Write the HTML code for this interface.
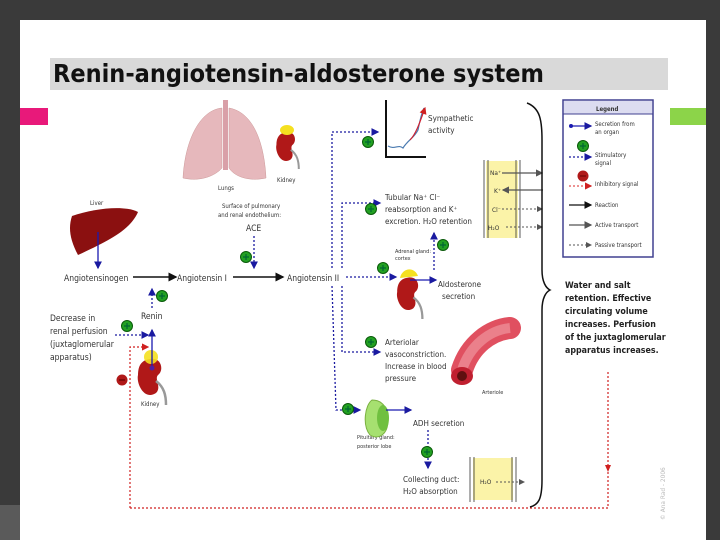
<!DOCTYPE html>
<html><head><meta charset="utf-8"><style>
html,body{margin:0;padding:0;background:#3a3a3a;}
svg{display:block;font-family:"DejaVu Sans Condensed","Liberation Sans",sans-serif;}
</style></head><body>
<svg width="720" height="540" viewBox="0 0 720 540" xmlns="http://www.w3.org/2000/svg">
<defs>
<marker id="ab" markerWidth="6" markerHeight="6" refX="5" refY="3" orient="auto"><path d="M0,0L6,3L0,6z" fill="#1a1aa0"/></marker>
<marker id="ak" markerWidth="6" markerHeight="6" refX="5" refY="3" orient="auto"><path d="M0,0L6,3L0,6z" fill="#111"/></marker>
<marker id="ar" markerWidth="6" markerHeight="6" refX="5" refY="3" orient="auto"><path d="M0,0L6,3L0,6z" fill="#d02020"/></marker>
<marker id="ag" markerWidth="6" markerHeight="6" refX="5" refY="3" orient="auto"><path d="M0,0L6,3L0,6z" fill="#555"/></marker>
<g id="plus"><circle r="5.5" fill="#22a022" stroke="#0a5a0a"/><path d="M-3,0H3M0,-3V3" stroke="#063" stroke-width="1.2"/></g>
<g id="kid"><path d="M0,-16 C12,-18 14,-4 8,0 C4,4 12,12 6,18 C-6,26 -14,8 -12,0 C-12,-10 -8,-15 0,-16z" fill="#b01818"/><path d="M6,6 C14,12 16,20 16,30" stroke="#999" stroke-width="2.5" fill="none"/></g>
</defs>
<rect x="0" y="0" width="720" height="540" fill="#3a3a3a"/>
<rect x="20" y="20" width="686" height="520" fill="#ffffff"/>
<rect x="0" y="505" width="120" height="35" fill="#5a5a5a"/>
<rect x="20" y="505" width="100" height="35" fill="#fff"/>
<rect x="50" y="58" width="618" height="32" fill="#d9d9d9"/>
<text x="53" y="82" font-size="25" font-weight="bold" fill="#111" font-family="DejaVu Sans Condensed,Liberation Sans Narrow,sans-serif">Renin-angiotensin-aldosterone system</text>
<rect x="20" y="108" width="28" height="17" fill="#e8197a"/>
<rect x="670" y="108" width="36" height="17" fill="#8cd449"/>

<!-- lungs -->
<path d="M222,108 C200,110 185,140 183,178 C200,182 215,176 222,168z" fill="#e6b8bc" stroke="#c99" stroke-width="0.5"/>
<path d="M229,108 C252,112 264,140 266,178 C248,182 234,176 229,168z" fill="#e6b8bc" stroke="#c99" stroke-width="0.5"/>
<rect x="223" y="100" width="5" height="70" fill="#d9a0a8"/>
<text x="218" y="190" font-size="6" fill="#333">Lungs</text>
<g transform="translate(286,145) scale(0.8)"><use href="#kid"/></g>
<ellipse cx="287" cy="130" rx="7" ry="5" fill="#f5e020"/>
<text x="277" y="182" font-size="6" fill="#333">Kidney</text>

<!-- liver -->
<path d="M72,216 C95,208 125,205 138,212 C130,230 110,240 78,255 C70,240 68,228 72,216z" fill="#8b1010"/>
<text x="90" y="205" font-size="6" fill="#333">Liver</text>
<line x1="98" y1="232" x2="98" y2="268" stroke="#1a1ab0" stroke-width="1.3" marker-end="url(#ab)"/>

<g font-size="8.5" fill="#333">
<text x="64" y="281">Angiotensinogen</text>
<text x="177" y="281">Angiotensin I</text>
<text x="287" y="281">Angiotensin II</text>
<text x="222" y="208" font-size="6">Surface of pulmonary</text>
<text x="218" y="217" font-size="6">and renal endothelium:</text>
<text x="246" y="231" font-size="8.5">ACE</text>
<text x="141" y="319">Renin</text>
<text x="50" y="321">Decrease in</text>
<text x="50" y="334">renal perfusion</text>
<text x="50" y="347">(juxtaglomerular</text>
<text x="50" y="360">apparatus)</text>
<text x="141" y="406" font-size="6">Kidney</text>
</g>
<line x1="133" y1="277" x2="176" y2="277" stroke="#111" stroke-width="1.5" marker-end="url(#ak)"/>
<line x1="233" y1="277" x2="283" y2="277" stroke="#111" stroke-width="1.5" marker-end="url(#ak)"/>
<line x1="254" y1="236" x2="254" y2="268" stroke="#1a1aa0" stroke-width="1.3" stroke-dasharray="2,2" marker-end="url(#ab)"/>
<use href="#plus" x="246" y="257"/>
<line x1="152" y1="308" x2="152" y2="289" stroke="#1a1aa0" stroke-width="1.3" stroke-dasharray="2,2" marker-end="url(#ab)"/>
<use href="#plus" x="162" y="296"/>
<use href="#plus" x="127" y="326"/>
<line x1="115" y1="335" x2="148" y2="335" stroke="#1a1aa0" stroke-width="1.3" stroke-dasharray="2,2" marker-end="url(#ab)"/>
<path d="M130,508 V347 H148" stroke="#d02020" stroke-width="1.2" stroke-dasharray="2,2" fill="none" marker-end="url(#ar)"/>
<circle cx="122" cy="380" r="5.5" fill="#b01818"/><path d="M119,380H125" stroke="#600" stroke-width="1.2"/>
<g transform="translate(150,375)"><use href="#kid"/></g>
<circle cx="151" cy="357" r="7" fill="#f5e020" opacity="0.9"/>
<line x1="152" y1="368" x2="152" y2="330" stroke="#1a1ab0" stroke-width="1.3" marker-end="url(#ab)"/>
<circle cx="152" cy="368" r="2.5" fill="#5020a0"/>
<path d="M130,508 H608 V372" stroke="#d02020" stroke-width="1.2" stroke-dasharray="2,2" fill="none"/>
<path d="M605,465 L608,472 L611,465z" fill="#d02020"/>

<!-- branches -->
<path d="M332,268 V132 H378" stroke="#1a1aa0" stroke-width="1.3" stroke-dasharray="2,2" fill="none" marker-end="url(#ab)"/>
<path d="M342,268 V203 H380" stroke="#1a1aa0" stroke-width="1.3" stroke-dasharray="2,2" fill="none" marker-end="url(#ab)"/>
<line x1="346" y1="277" x2="396" y2="277" stroke="#1a1aa0" stroke-width="1.3" stroke-dasharray="2,2" marker-end="url(#ab)"/>
<path d="M342,286 V352 H380" stroke="#1a1aa0" stroke-width="1.3" stroke-dasharray="2,2" fill="none" marker-end="url(#ab)"/>
<path d="M332,286 L336,410 H360" stroke="#1a1aa0" stroke-width="1.3" stroke-dasharray="2,2" fill="none" marker-end="url(#ab)"/>
<use href="#plus" x="368" y="142"/>
<use href="#plus" x="371" y="209"/>
<use href="#plus" x="383" y="268"/>
<use href="#plus" x="371" y="342"/>
<use href="#plus" x="348" y="409"/>

<!-- sympathetic graph -->
<path d="M386,100 V157 H426" stroke="#111" stroke-width="2" fill="none"/>
<path d="M388,146 C395,150 398,144 403,148 C408,140 414,138 418,130 C420,120 422,112 424,108" stroke="#4a7ab0" stroke-width="1.2" fill="none"/>
<path d="M410,140 C416,134 420,122 425,108" stroke="#d02030" stroke-width="1.2" fill="none" marker-end="url(#ar)"/>
<g font-size="8" fill="#333">
<text x="428" y="121">Sympathetic</text>
<text x="428" y="133">activity</text>
<text x="385" y="200">Tubular Na⁺ Cl⁻</text>
<text x="385" y="212">reabsorption and K⁺</text>
<text x="385" y="224">excretion. H₂O retention</text>
<text x="395" y="253" font-size="5.5">Adrenal gland:</text>
<text x="395" y="260" font-size="5.5">cortex</text>
<text x="438" y="287">Aldosterone</text>
<text x="442" y="299">secretion</text>
<text x="385" y="345">Arteriolar</text>
<text x="385" y="357">vasoconstriction.</text>
<text x="385" y="369">Increase in blood</text>
<text x="385" y="381">pressure</text>
<text x="413" y="426">ADH secretion</text>
<text x="357" y="439" font-size="5.5">Pituitary gland:</text>
<text x="357" y="448" font-size="5.5">posterior lobe</text>
<text x="403" y="482">Collecting duct:</text>
<text x="403" y="494">H₂O absorption</text>
<text x="482" y="394" font-size="5.5">Arteriole</text>
</g>
<!-- yellow box -->
<rect x="486" y="161" width="32" height="77" fill="#fbf3a8"/>
<path d="M484,160V238M488,160V238M516,160V238M520,160V238" stroke="#333" stroke-width="0.8"/>
<g font-size="6.5" fill="#333"><text x="490" y="175">Na⁺</text><text x="494" y="193">K⁺</text><text x="492" y="212">Cl⁻</text><text x="488" y="230">H₂O</text></g>
<line x1="502" y1="173" x2="542" y2="173" stroke="#555" stroke-width="1.2" marker-end="url(#ag)"/>
<line x1="543" y1="190" x2="503" y2="190" stroke="#555" stroke-width="1.2" marker-end="url(#ag)"/>
<line x1="502" y1="209" x2="542" y2="209" stroke="#555" stroke-width="1" stroke-dasharray="2,2" marker-end="url(#ag)"/>
<line x1="506" y1="227" x2="542" y2="227" stroke="#555" stroke-width="1" stroke-dasharray="2,2" marker-end="url(#ag)"/>
<!-- aldosterone -->
<line x1="434" y1="270" x2="434" y2="233" stroke="#1a1aa0" stroke-width="1.3" stroke-dasharray="2,2" marker-end="url(#ab)"/>
<use href="#plus" x="443" y="245"/>
<g transform="translate(408,292) scale(0.9)"><use href="#kid"/></g>
<path d="M400,278 C402,268 414,266 418,276z" fill="#f5e020"/>
<line x1="410" y1="280" x2="436" y2="280" stroke="#1a1ab0" stroke-width="1.3" marker-end="url(#ab)"/>
<!-- arteriole -->
<path d="M462,370 C470,345 490,330 510,328" stroke="#e05060" stroke-width="22" stroke-linecap="round" fill="none"/>
<path d="M462,370 C470,345 490,330 510,328" stroke="#f2a0a8" stroke-width="10" fill="none" opacity="0.6"/>
<ellipse cx="462" cy="376" rx="11" ry="9" fill="#c02030"/><circle cx="462" cy="376" r="5" fill="#601010"/>
<!-- pituitary -->
<path d="M372,400 C365,405 362,425 370,435 C378,440 388,435 388,420 C388,410 384,400 372,400z" fill="#a6e070" stroke="#7ab040"/>
<ellipse cx="383" cy="418" rx="6" ry="13" fill="#70c040"/>
<line x1="386" y1="410" x2="411" y2="410" stroke="#1a1ab0" stroke-width="1.3" marker-end="url(#ab)"/>
<line x1="428" y1="430" x2="428" y2="468" stroke="#1a1aa0" stroke-width="1.3" stroke-dasharray="2,2" marker-end="url(#ab)"/>
<use href="#plus" x="427" y="452"/>
<rect x="473" y="458" width="40" height="42" fill="#fbf3a8"/>
<path d="M470,457V502M474,457V502M512,457V502M516,457V502" stroke="#333" stroke-width="0.8"/>
<text x="480" y="484" font-size="6.5" fill="#333">H₂O</text>
<line x1="496" y1="482" x2="524" y2="482" stroke="#555" stroke-width="1" stroke-dasharray="2,2" marker-end="url(#ag)"/>
<!-- brace -->
<path d="M527,103 C540,108 542,120 542,140 V270 C542,282 546,288 550,290 C546,292 542,298 542,310 V480 C542,500 538,505 530,507" stroke="#111" stroke-width="1.5" fill="none"/>
<g font-size="8.8" font-weight="bold" fill="#222">
<text x="565" y="288">Water and salt</text>
<text x="565" y="301">retention. Effective</text>
<text x="565" y="314">circulating volume</text>
<text x="565" y="327">increases. Perfusion</text>
<text x="565" y="340">of the juxtaglomerular</text>
<text x="565" y="353">apparatus increases.</text>
</g>
<!-- legend -->
<rect x="563" y="100" width="90" height="157" fill="#fff" stroke="#404090" stroke-width="1.5"/>
<rect x="564" y="101" width="88" height="13" fill="#dcdcf0"/>
<line x1="563" y1="114" x2="653" y2="114" stroke="#404090"/>
<g font-size="6" fill="#333">
<text x="596" y="111" font-weight="bold">Legend</text>
<text x="595" y="126">Secretion from</text><text x="595" y="134">an organ</text>
<text x="595" y="157">Stimulatory</text><text x="595" y="165">signal</text>
<text x="595" y="186">Inhibitory signal</text>
<text x="595" y="207">Reaction</text>
<text x="595" y="227">Active transport</text>
<text x="595" y="247">Passive transport</text>
</g>
<circle cx="571" cy="126" r="2" fill="#1a1ab0"/><line x1="571" y1="126" x2="591" y2="126" stroke="#1a1ab0" stroke-width="1.3" marker-end="url(#ab)"/>
<use href="#plus" x="583" y="146"/>
<line x1="569" y1="157" x2="591" y2="157" stroke="#1a1aa0" stroke-width="1.3" stroke-dasharray="2,2" marker-end="url(#ab)"/>
<circle cx="583" cy="176" r="5.5" fill="#b01818"/><path d="M580,176H586" stroke="#600"/>
<line x1="569" y1="186" x2="591" y2="186" stroke="#e05050" stroke-width="1.2" stroke-dasharray="2,2" marker-end="url(#ar)"/>
<line x1="569" y1="205" x2="591" y2="205" stroke="#111" stroke-width="1.3" marker-end="url(#ak)"/>
<line x1="569" y1="225" x2="591" y2="225" stroke="#555" stroke-width="1.3" marker-end="url(#ag)"/>
<line x1="569" y1="245" x2="591" y2="245" stroke="#555" stroke-width="1" stroke-dasharray="2,2" marker-end="url(#ag)"/>
<text transform="translate(665,520) rotate(-90)" font-size="6.5" fill="#bbb">© Ana Rad - 2006</text>
</svg>
</body></html>
